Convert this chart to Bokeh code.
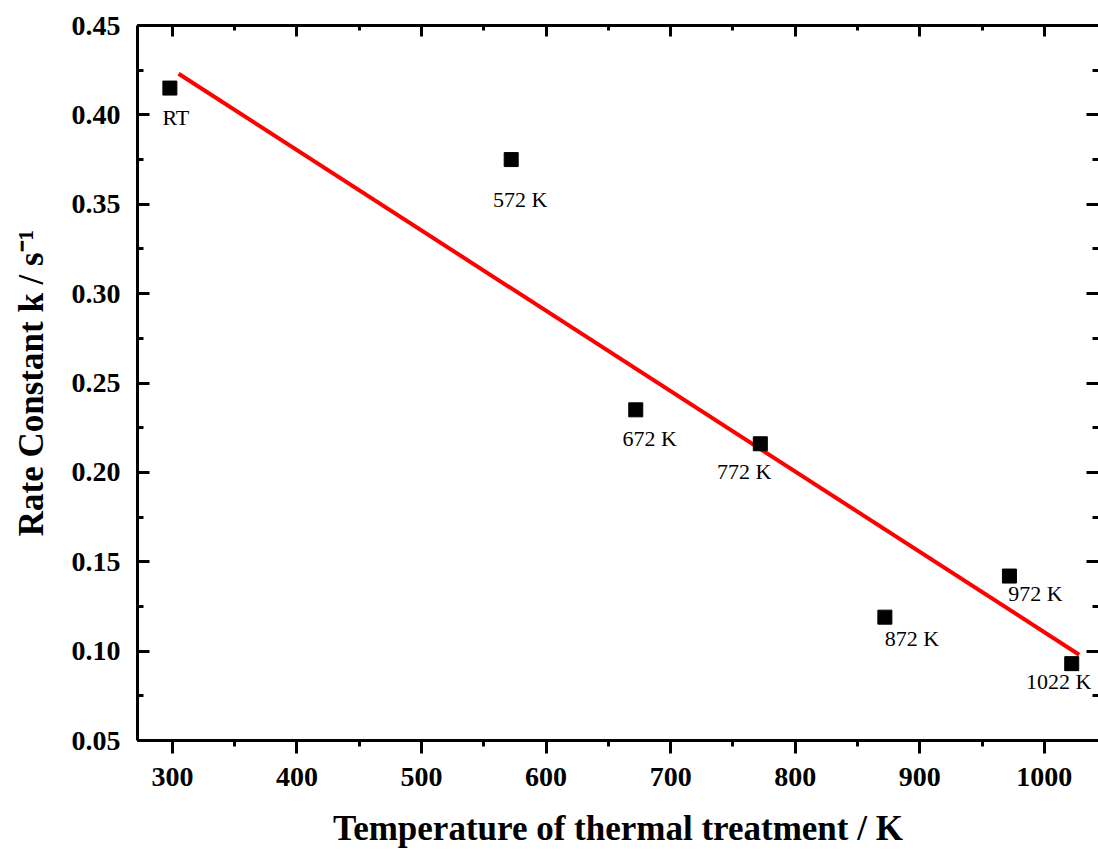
from bokeh.plotting import figure
from bokeh.models import (Range1d, LinearAxis, SingleIntervalTicker,
                          PrintfTickFormatter, ColumnDataSource)
from bokeh.core.properties import value
from bokeh.embed import file_html
from bokeh.resources import INLINE

# ---- data ----
temps = [298, 572, 672, 772, 872, 972, 1022]
rates = [0.415, 0.375, 0.235, 0.216, 0.119, 0.142, 0.093]
point_labels = ["RT", "572 K", "672 K", "772 K", "872 K", "972 K", "1022 K"]
fit_x = [305, 1028]
fit_y = [0.423, 0.098]

# label offsets (screen px)
label_dx = [6, 9, 14, -16, 27, 26, -13]
label_dy = [29, 40, 29, 28, 21, 17, 18]

FONT = "Liberation Serif"

p = figure(width=1098, height=850, output_backend="svg", toolbar_location=None,
           x_range=Range1d(272, 1043.5), y_range=Range1d(0.05, 0.45),
           x_axis_location=None, y_axis_location=None,
           min_border_left=137, min_border_top=25, min_border_bottom=107,
           min_border_right=0)
p.outline_line_color = None
p.background_fill_color = "white"
p.border_fill_color = "white"
p.grid.visible = False


def make_axis(ticker_interval, labelled, tick_in, tick_out, minor_in, minor_out):
    ax = LinearAxis(ticker=SingleIntervalTicker(interval=ticker_interval, num_minor_ticks=2))
    ax.axis_line_width = 3
    ax.axis_line_color = "black"
    ax.major_tick_line_width = 3
    ax.minor_tick_line_width = 3
    ax.major_tick_line_color = "black"
    ax.minor_tick_line_color = "black"
    ax.major_tick_in = tick_in
    ax.major_tick_out = tick_out
    ax.minor_tick_in = minor_in
    ax.minor_tick_out = minor_out
    ax.major_label_text_font = FONT
    ax.major_label_text_font_style = "bold"
    ax.axis_label_text_font = FONT
    ax.axis_label_text_font_style = "bold"
    ax.axis_label_text_color = "black"
    ax.axis_label_text_font_size = "35px"
    if labelled:
        ax.major_label_text_font_size = "28px"
        ax.major_label_text_color = "black"
    else:
        ax.major_label_text_font_size = "1px"
        ax.major_label_text_color = None
        ax.major_label_standoff = 0
    return ax


bottom = make_axis(100, True, 0, 13, 0, 6)
bottom.axis_label = "Temperature of thermal treatment / K"
bottom.major_label_standoff = 14
bottom.axis_label_standoff = 20
p.add_layout(bottom, "below")

left = make_axis(0.05, True, 12, 0, 6, 0)
left.formatter = PrintfTickFormatter(format="%.2f")
left.axis_label = "Rate Constant k / s\u207b\u00b9"
left.major_label_standoff = 17
left.axis_label_standoff = 18
p.add_layout(left, "left")

top = make_axis(100, False, 11, 0, 5, 0)
p.add_layout(top, "above")

right = make_axis(0.05, False, 12, 0, 6, 0)
right.axis_line_color = None
p.add_layout(right, "right")

# fit line
p.line(x=fit_x, y=fit_y, line_color="#ff0000", line_width=4)

src = ColumnDataSource(dict(x=temps, y=rates, lab=point_labels,
                            dx=label_dx, dy=label_dy))
p.scatter(x="x", y="y", source=src, marker="square", size=14,
          fill_color="black", line_color="black")
p.text(x="x", y="y", text="lab", source=src, x_offset="dx", y_offset="dy",
       text_font=value(FONT), text_font_size="22px", text_color="black",
       text_align="center", text_baseline="middle")

open("out.html", "w").write(file_html(p, INLINE))
